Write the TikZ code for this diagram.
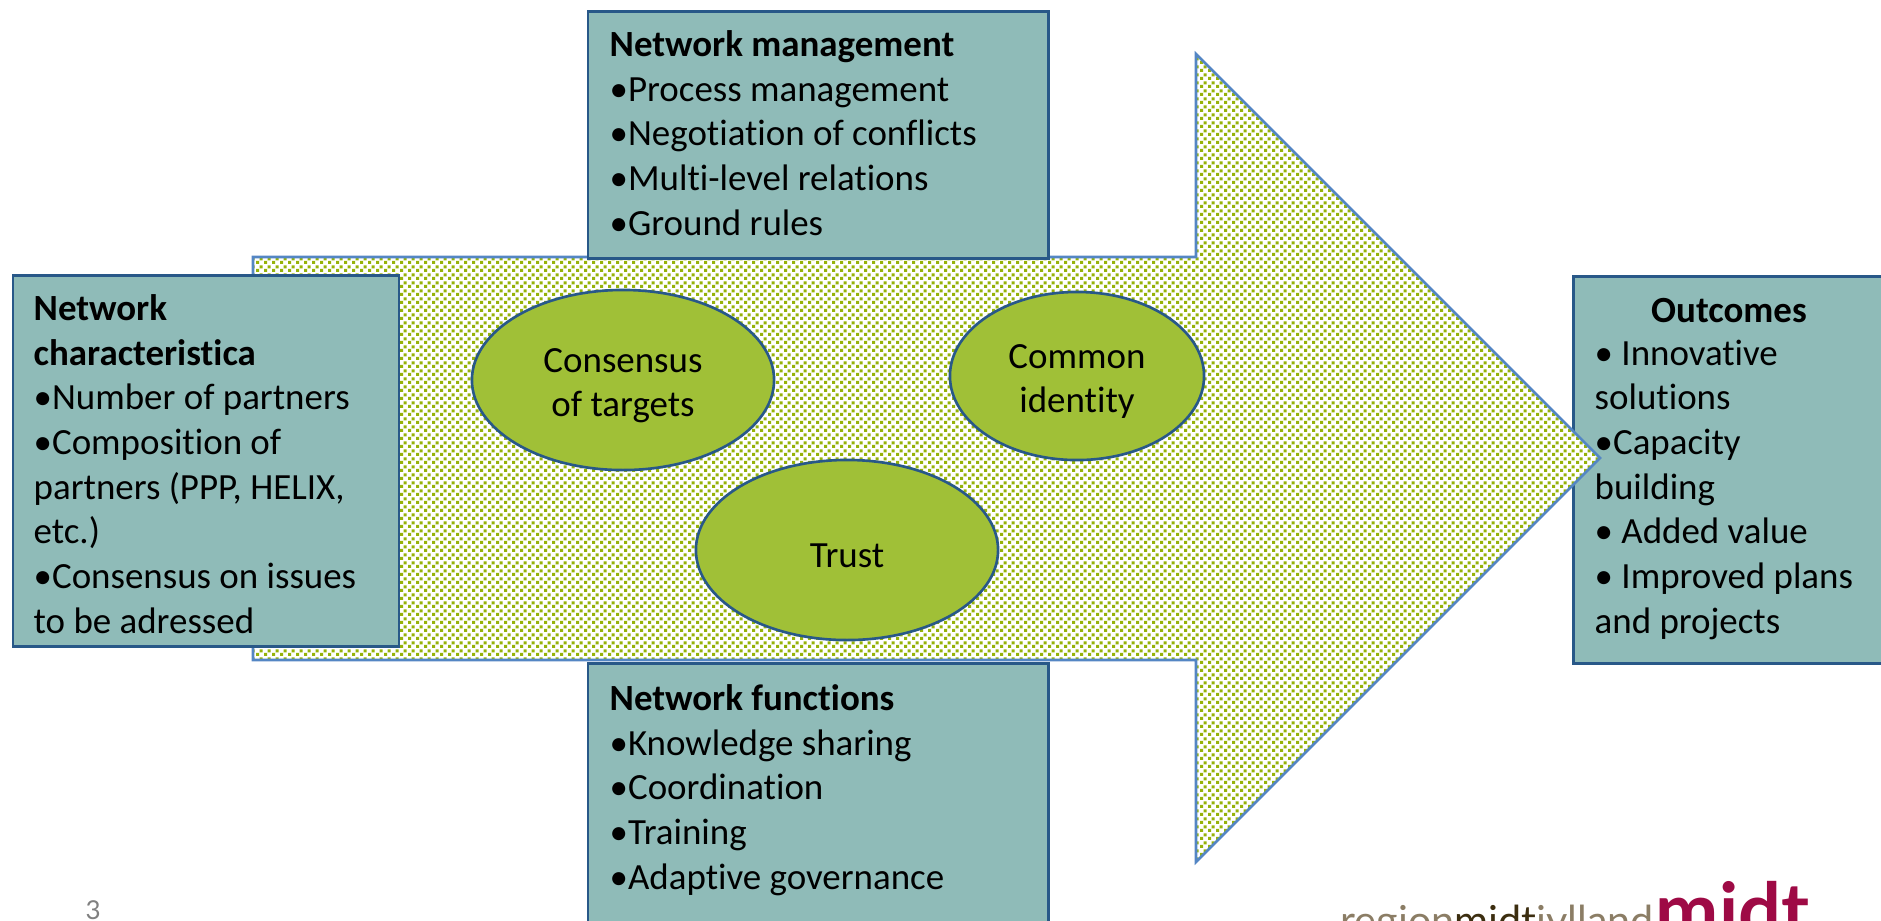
\documentclass[tikz,border=0pt]{standalone}
\usepackage{fontspec}
\setmainfont{Carlito}[Ligatures=NoCommon]
\newfontfamily\logofont{Lato}
\usepackage{tikz}
\usetikzlibrary{patterns,shapes.geometric,positioning}
\definecolor{boxteal}{RGB}{143,187,184}
\definecolor{boxline}{RGB}{40,88,136}
\definecolor{arrowline}{RGB}{84,134,196}
\definecolor{dotgreen}{RGB}{150,178,10}
\definecolor{ovalgreen}{RGB}{160,192,55}
\definecolor{logotaupe}{RGB}{139,125,101}
\definecolor{logodark}{RGB}{60,46,16}
\definecolor{logored}{RGB}{158,10,69}
\pgfdeclarepatternformonly{arrowdots}{\pgfpointorigin}{\pgfqpoint{2.276pt}{2.276pt}}{\pgfqpoint{2.276pt}{2.276pt}}{
  \pgfpathrectangle{\pgfpointorigin}{\pgfqpoint{1pt}{1pt}}
  \pgfpathrectangle{\pgfqpoint{1.138pt}{1.138pt}}{\pgfqpoint{1pt}{1pt}}
  \pgfusepath{fill}
}
\newcommand{\ovalstrut}{\rule{0pt}{10pt}}
\tikzset{
  infobox/.style={draw=boxline, fill=boxteal, line width=0.85pt},
  infotext/.style={anchor=base west, align=left, inner sep=0pt, font=\fontsize{10.5}{12.7}\selectfont},
  oval/.style={ellipse, draw=boxline, fill=ovalgreen, line width=0.75pt, inner sep=0pt, align=center,
    font=\fontsize{10.5}{12.7}\selectfont},
}

\begin{document}
\begin{tikzpicture}[x=0.01cm, y=-0.01cm]
  \useasboundingbox (0,0) rectangle (1881,920);
  \clip (0,0) rectangle (1881,920);

  % Outcomes box, under the arrow tip
  \draw[infobox] (1573,276) rectangle (1900,663);

  % Big arrow
  \draw[arrowline, line width=0.75pt, preaction={fill=white}, pattern=arrowdots, pattern color=dotgreen]
    (253,257) -- (1196,257) -- (1196,54) -- (1600,458) -- (1196,862) -- (1196,660) -- (253,660) -- cycle;

  % Boxes
  \draw[infobox] (13,275) rectangle (399,646);
  \draw[infobox] (588,11) rectangle (1048,258);
  \draw[infobox] (588,663) rectangle (1048,940);

  % Box texts
  \node[infotext] (charlabel) at (33,633) {\textbf{Network}\\\textbf{characteristica}\\•Number of partners\\•Composition of\\partners (PPP, HELIX,\\etc.)\\•Consensus on issues\\to be adressed};
  \node[infotext] (mgmtlabel) at (609,235) {\textbf{Network management}\\•Process management\\•Negotiation of conflicts\\•Multi-level relations\\•Ground rules};
  \node[infotext] (funclabel) at (609,889) {\textbf{Network functions}\\•Knowledge sharing\\•Coordination\\•Training\\•Adaptive governance};
  \node[infotext] (outlabel) at (1594,633) {• Innovative\\solutions\\•Capacity\\building\\• Added value\\• Improved plans\\and projects};
  \node[infotext, anchor=base] (outtitle) at (1729,322) {\textbf{Outcomes}};

  % Ovals
  \node[oval, minimum width=3.02cm, minimum height=1.8cm] (targets) at (623,380) {\ovalstrut Consensus\\of targets};
  \node[oval, minimum width=2.54cm, minimum height=1.68cm] (identity) at (1077,376) {\ovalstrut Common\\identity};
  \node[oval, minimum width=3.02cm, minimum height=1.8cm] (trust) at (847,550) {\ovalstrut Trust};

  % Footer
  \node[anchor=base west, inner sep=0pt, text=gray, font=\logofont\fontsize{7.4}{9}\selectfont] (pagenum) at (85,919) {3};
  \node[anchor=base west, inner sep=0pt, font=\logofont\fontsize{11.75}{14}\selectfont] (logotext) at (1340,935)
    {\textcolor{logotaupe}{region}\textcolor{logodark}{midt}\textcolor{logotaupe}{jylland}};
  \node[anchor=base west, inner sep=0pt, text=logored, font=\logofont\bfseries\fontsize{21.5}{26}\selectfont] (logomark) at (1655,937) {midt};
\end{tikzpicture}
\end{document}
